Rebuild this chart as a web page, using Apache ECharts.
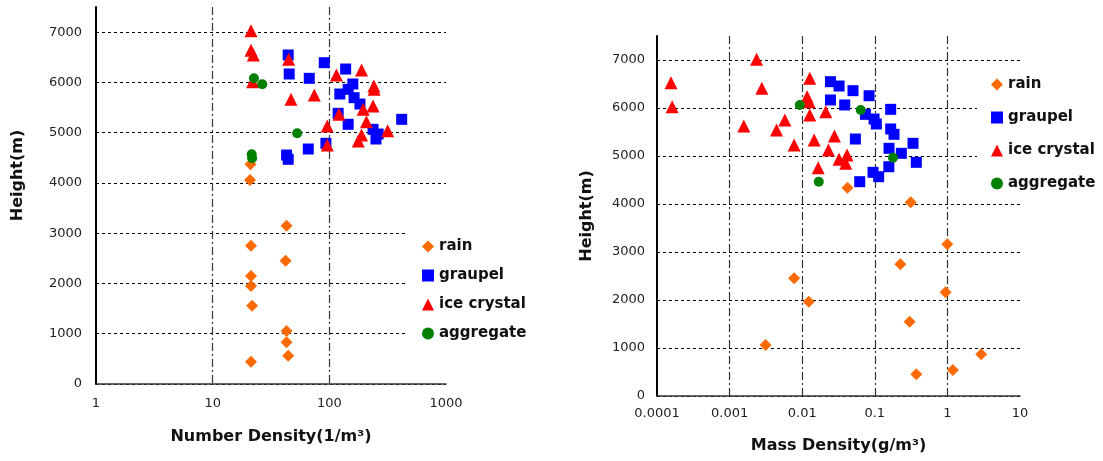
<!DOCTYPE html>
<html>
<head>
<meta charset="utf-8">
<script src="https://cdn.jsdelivr.net/npm/echarts@6/dist/echarts.min.js"></script>
<style>
  html, body { margin: 0; padding: 0; background: #fff; }
  #chart { width: 1103px; height: 461px; }
</style>
</head>
<body>
<div id="chart"></div>
<script>
// ---- Data: [density, height (m)] per hydrometeor type ----

// Number density (1/m^3) vs height
const rainNumber = [[21.1, 4370], [20.9, 4058], [43, 3149], [21.3, 2751], [42.2, 2453], [21.3, 2148],
  [21.3, 1950], [21.8, 1558], [43, 1054], [43, 830], [44.4, 563], [21.3, 444]];
const graupelNumber = [[44.4, 6545], [45.3, 6167], [90.5, 6392], [138, 6266], [67.3, 6081], [159, 5968],
  [145, 5862], [123, 5769], [163, 5696], [183, 5570], [119, 5385], [145, 5166], [417, 5265], [237, 5066],
  [262, 4973], [251, 4874], [66, 4675], [93.5, 4788], [43, 4555], [44.4, 4470]];
const iceNumber = [[21.3, 7030], [21.3, 6640], [22.3, 6545], [44.8, 6460], [22, 6014], [115, 6145],
  [189, 6246], [241, 5928], [242, 5862], [46.9, 5663], [74.3, 5750], [195, 5464], [237, 5530], [121, 5365],
  [208, 5218], [96, 5132], [316, 5039], [189, 4953], [177, 4834], [96, 4754]];
const aggregateNumber = [[22.6, 6081], [26.6, 5962], [53, 4987], [21.6, 4570], [21.8, 4490]];

// Mass density (g/m^3) vs height
const rainMass = [[0.042, 4340], [0.312, 4035], [0.998, 3160], [0.225, 2743], [0.00774, 2451], [0.944, 2160],
  [0.0123, 1965], [0.302, 1548], [0.00313, 1063], [2.92, 870], [1.19, 542], [0.373, 452]];
const graupelMass = [[0.0245, 6548], [0.0322, 6458], [0.0501, 6361], [0.0834, 6256], [0.0245, 6167],
  [0.0385, 6063], [0.1655, 5972], [0.0743, 5868], [0.0977, 5771], [0.105, 5667], [0.1655, 5563],
  [0.184, 5452], [0.054, 5354], [0.336, 5264], [0.157, 5160], [0.232, 5056], [0.373, 4868], [0.156, 4777],
  [0.0946, 4660], [0.113, 4569], [0.062, 4465]];
const iceMass = [[0.000156, 6527], [0.000162, 6027], [0.00235, 7015], [0.00278, 6410], [0.0127, 6618],
  [0.0117, 6236], [0.0124, 6131], [0.0127, 5854], [0.0211, 5923], [0.00157, 5625], [0.00577, 5750],
  [0.00443, 5542], [0.00774, 5229], [0.0146, 5333], [0.0278, 5417], [0.023, 5125], [0.0322, 4931],
  [0.0415, 5021], [0.0398, 4847], [0.0166, 4757]];
const aggregateMass = [[0.00927, 6063], [0.064, 5958], [0.178, 4965], [0.0169, 4465]];

// Tick labels
const numberTicks = ['1', '10', '100', '1000'];          // decades 10^0 .. 10^3
const massTicks = ['0.0001', '0.001', '0.01', '0.1', '1', '10']; // decades 10^-4 .. 10^1
const heightMin = 0, heightMax = 7500, heightStep = 1000;

const typeNames = ['rain', 'graupel', 'ice crystal', 'aggregate'];
const typeColors = ['#FF6A00', '#0000FF', '#FF0000', '#008000'];
const typeSymbols = ['diamond', 'rect', 'triangle', 'circle'];
const typeSizes = [12, 11, 13, 10];

// ---- Shared styles ----
const tickFont = { fontFamily: 'DejaVu Sans', fontSize: 13, color: '#222' };
const nameFont = { fontFamily: 'DejaVu Sans', fontSize: 16, fontWeight: 'bold', color: '#111' };
const hGrid = { show: true, showMaxLine: false, lineStyle: { color: '#000', width: 1, type: [3, 3] } };
const vGrid = { show: true, showMaxLine: false, showMinLine: false, lineStyle: { color: '#333', width: 1.2, type: [8, 3, 2, 3] } };

function decadeLabel(list, firstExp) {
  return function (v) {
    const k = Math.round(Math.log10(v)) - firstExp;
    return list[k] !== undefined ? list[k] : '';
  };
}

function heightAxis(gridIndex, gap, margin, namePad) {
  return {
    type: 'value', gridIndex: gridIndex,
    min: heightMin, max: heightMax, interval: heightStep,
    name: 'Height(m)', nameLocation: 'middle', nameRotate: 90, nameGap: gap,
    nameTextStyle: Object.assign({ padding: namePad }, nameFont),
    axisLine: { show: true, lineStyle: { color: '#000', width: 2 } },
    axisTick: { show: false },
    axisLabel: Object.assign({ margin: margin, showMaxLabel: false, formatter: v => String(v) }, tickFont),
    splitLine: hGrid
  };
}

function makeSeries(xi, sets) {
  return sets.map((d, i) => ({
    type: 'scatter', name: typeNames[i],
    xAxisIndex: xi, yAxisIndex: xi,
    data: d,
    symbol: typeSymbols[i], symbolSize: typeSizes[i],
    itemStyle: { color: typeColors[i], opacity: 1 },
    emphasis: { disabled: true },
    silent: true
  }));
}

function makeLegend(left, top, gap) {
  return {
    orient: 'vertical', left: left, top: top,
    backgroundColor: '#fff', padding: [12, 40, 12, 14],
    itemWidth: 12, itemHeight: 12, itemGap: gap,
    selectedMode: false,
    data: typeNames,
    textStyle: { fontFamily: 'DejaVu Sans', fontSize: 15, fontWeight: 'bold', color: '#111', lineHeight: 12 }
  };
}

const chart = echarts.init(document.getElementById('chart'), null, { renderer: 'canvas' });
chart.setOption({
  animation: false,
  backgroundColor: '#fff',
  grid: [
    { left: 96, top: 7, width: 350, height: 377 },
    { left: 657, top: 36, width: 363, height: 360 }
  ],
  legend: [
    makeLegend(408, 227, 14),
    makeLegend(977, 65, 18)
  ],
  xAxis: [
    {
      type: 'log', logBase: 10, gridIndex: 0, min: 1, max: 1000,
      name: 'Number Density(1/m³)', nameLocation: 'middle', nameGap: 45, nameTextStyle: nameFont,
      axisLine: { show: true, lineStyle: { color: '#333', width: 1.5 } },
      axisTick: { show: false },
      axisLabel: Object.assign({ margin: 13, formatter: decadeLabel(numberTicks, 0) }, tickFont),
      splitLine: vGrid
    },
    {
      type: 'log', logBase: 10, gridIndex: 1, min: 0.0001, max: 10,
      name: 'Mass Density(g/m³)', nameLocation: 'middle', nameGap: 42, nameTextStyle: nameFont,
      axisLine: { show: true, lineStyle: { color: '#333', width: 1.5 } },
      axisTick: { show: false },
      axisLabel: Object.assign({ margin: 11, formatter: decadeLabel(massTicks, -4) }, tickFont),
      splitLine: vGrid
    }
  ],
  yAxis: [
    heightAxis(0, 70, 14, [0, 0, 0, 40]),
    heightAxis(1, 62, 12, 0)
  ],
  series: makeSeries(0, [rainNumber, graupelNumber, iceNumber, aggregateNumber])
    .concat(makeSeries(1, [rainMass, graupelMass, iceMass, aggregateMass]))
});
</script>
</body>
</html>
